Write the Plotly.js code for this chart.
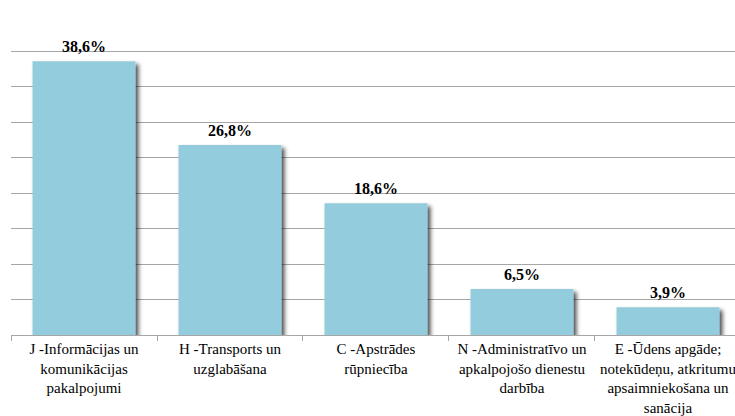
<!DOCTYPE html>
<html>
<head>
<meta charset="utf-8">
<script src="https://cdn.plot.ly/plotly-3.0.1.min.js"></script>
<style>
html,body{margin:0;padding:0;background:#fff;}
#chart{width:735px;height:416px;}
</style>
</head>
<body>
<div id="chart"></div>
<script>
const categories = [
  "J -Informācijas un<br>komunikācijas<br>pakalpojumi",
  "H -Transports un<br>uzglabāšana",
  "C -Apstrādes<br>rūpniecība",
  "N -Administratīvo un<br>apkalpojošo dienestu<br>darbība",
  "E -Ūdens apgāde;<br>notekūdeņu, atkritumu<br>apsaimniekošana un<br>sanācija"
];
const values = [38.6, 26.8, 18.6, 6.5, 3.9];
const labels = ["38,6%", "26,8%", "18,6%", "6,5%", "3,9%"];

const FONT = "Liberation Serif";

const trace = {
  type: "bar",
  x: categories,
  y: values,
  text: labels,
  textposition: "outside",
  cliponaxis: false,
  textfont: {family: FONT, size: 16, color: "#000", weight: "bold"},
  marker: {color: "#93CDDD"},
  hoverinfo: "none"
};

const layout = {
  width: 735, height: 416,
  margin: {l: 11, r: 0, t: 16, b: 81},
  paper_bgcolor: "#fff", plot_bgcolor: "#fff",
  bargap: 0.295,
  showlegend: false,
  font: {family: FONT, size: 15, color: "#000"},
  xaxis: {
    type: "category",
    range: [-0.5, 4.459],
    tickson: "boundaries",
    ticks: "outside", ticklen: 5, tickcolor: "#a6a6a6",
    showline: true, linecolor: "#a6a6a6", linewidth: 1,
    showgrid: false,
    tickfont: {family: FONT, size: 15, color: "#000"},
    tickangle: 0,
    automargin: false
  },
  yaxis: {
    range: [0, 45], dtick: 5,
    showgrid: true, gridcolor: "#a6a6a6", gridwidth: 1,
    showticklabels: false, zeroline: false, showline: false, ticks: ""
  }
};

Plotly.newPlot("chart", [trace], layout, {displayModeBar: false}).then(function(gd){
  const svg = gd.querySelector("svg.main-svg");
  const ns = "http://www.w3.org/2000/svg";
  let defs = svg.querySelector("defs");
  if(!defs){ defs = document.createElementNS(ns, "defs"); svg.insertBefore(defs, svg.firstChild); }
  const f = document.createElementNS(ns, "filter");
  f.setAttribute("id", "barshadow");
  f.setAttribute("x", "-10%"); f.setAttribute("y", "-10%");
  f.setAttribute("width", "130%"); f.setAttribute("height", "130%");
  const ds = document.createElementNS(ns, "feDropShadow");
  ds.setAttribute("dx", "3"); ds.setAttribute("dy", "3");
  ds.setAttribute("stdDeviation", "2");
  ds.setAttribute("flood-color", "#000");
  ds.setAttribute("flood-opacity", "0.7");
  f.appendChild(ds);
  defs.appendChild(f);
  gd.querySelectorAll(".bars .point path").forEach(function(p){
    p.setAttribute("filter", "url(#barshadow)");
  });
  gd.querySelectorAll(".bars .point text").forEach(function(t){
    t.setAttribute("transform", (t.getAttribute("transform") || "") + " translate(0,-3)");
  });
});
</script>
</body>
</html>
